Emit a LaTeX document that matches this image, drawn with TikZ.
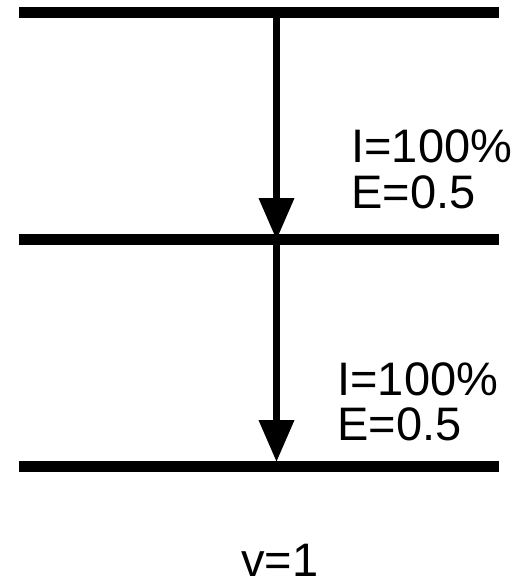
\documentclass[tikz,border=0pt]{standalone}
\usepackage{fontspec}
\setmainfont{Liberation Sans}
\usetikzlibrary{arrows.meta}
\tikzset{
  level/.style={draw=black, line width=5.5pt},
  decay/.style={-{Triangle[length=21pt, width=17pt]}, draw=black, line width=3.5pt},
  lbl/.style={anchor=base west, inner sep=0pt, font=\fontsize{23.5}{23.5}\selectfont},
}

\begin{document}
\begin{tikzpicture}[x=0.5pt, y=-0.5pt]
\useasboundingbox (0,0) rectangle (523,584);

% level ends
\coordinate (l0) at (19,12.5);  \coordinate (r0) at (499,12.5);
\coordinate (l1) at (19,239.5); \coordinate (r1) at (499,239.5);
\coordinate (l2) at (19,466);   \coordinate (r2) at (499,466);

% arrow ends
\coordinate (a0) at (276.5,12.5);
\coordinate (a1) at (276.5,240);
\coordinate (a2) at (276.5,239.5);
\coordinate (a3) at (276.5,462);

\draw[level] (l0) -- (r0);
\draw[level] (l1) -- (r1);
\draw[level] (l2) -- (r2);

\draw[decay] (a0) -- (a1);
\draw[decay] (a2) -- (a3);

\node[lbl] (i1) at (351,162) {I=100\%};
\node[lbl] (e1) at (351,208) {E=0.5};
\node[lbl] (i2) at (337,395) {I=100\%};
\node[lbl] (e2) at (337,440) {E=0.5};

\node[lbl, anchor=base] (v) at (280,576) {v=1};
\end{tikzpicture}
\end{document}
